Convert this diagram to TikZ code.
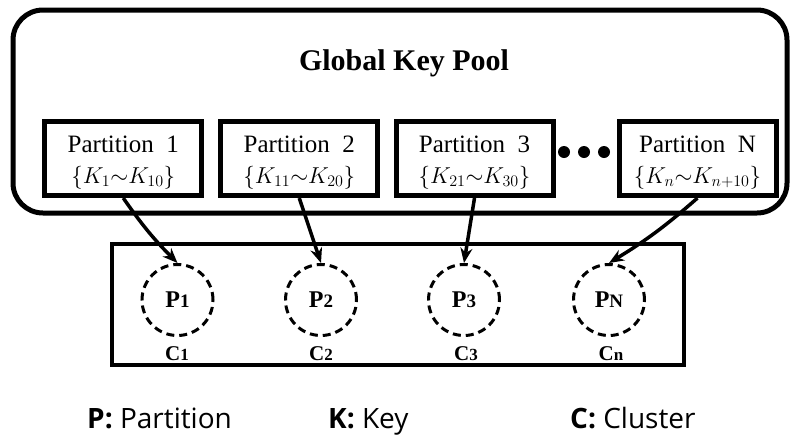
\RequirePackage{fix-cm}
\documentclass[tikz,border=0pt]{standalone}
\usepackage{fontspec}
\setmainfont{Liberation Serif}
\newfontfamily\legendfont{Open Sans}
\usetikzlibrary{arrows.meta}

% smaller index digits/letters next to bold labels
\newcommand\smallidx[2]{{\fontsize{#1}{#1}\selectfont #2}}

\tikzset{
  poolbox/.style={draw, line width=5pt, rounded corners=30pt,
    minimum width=774pt, minimum height=203pt, inner sep=0pt},
  partbox/.style={draw, line width=5pt, minimum width=157pt,
    minimum height=74pt, inner sep=0pt},
  clusterbox/.style={draw, line width=4pt, minimum width=572pt,
    minimum height=120.5pt, inner sep=0pt},
  pcircle/.style={circle, draw, line width=3pt, dash pattern=on 8pt off 5pt,
    minimum size=71pt, inner sep=0pt, font=\bfseries\fontsize{24}{24}\selectfont},
  titletext/.style={inner sep=0pt, anchor=base, font=\bfseries\fontsize{30}{30}\selectfont},
  parttext/.style={inner sep=0pt, anchor=base, font=\fontsize{25}{25}\selectfont},
  keytext/.style={inner sep=0pt, anchor=base, font=\fontsize{23}{23}\selectfont},
  clabel/.style={inner sep=0pt, anchor=base, font=\bfseries\fontsize{21}{21}\selectfont},
  legendtext/.style={inner sep=0pt, anchor=base west, font=\legendfont\fontsize{28}{28}\selectfont},
  link/.style={line width=3.5pt, -{Stealth[length=15pt,width=12pt]}},
}

\begin{document}
\begin{tikzpicture}[x=1pt, y=-1pt]
\useasboundingbox (0,0) rectangle (790,437);

% global key pool
\node[poolbox] (pool) at (400,111.5) {};
\node[titletext] (title) at (404,70) {Global Key Pool};

% partitions
\node[partbox] (b1) at (123.25,158.5) {};
\node[partbox] (b2) at (299.25,158.5) {};
\node[partbox] (b3) at (474.5,158.5) {};
\node[partbox] (bn) at (697.5,158.5) {};

\node[parttext] (b1t) at (123.25,152) {Partition \ 1};
\node[parttext] (b2t) at (299.25,152) {Partition \ 2};
\node[parttext] (b3t) at (474.5,152) {Partition \ 3};
\node[parttext] (bnt) at (697.5,152) {Partition \ N};

\node[keytext] (b1k) at (123.25,183) {$\{K_1{\sim}K_{10}\}$};
\node[keytext] (b2k) at (299.25,183) {$\{K_{11}{\sim}K_{20}\}$};
\node[keytext] (b3k) at (474.5,183) {$\{K_{21}{\sim}K_{30}\}$};
\node[keytext] (bnk) at (697.5,183) {$\{K_n{\sim}K_{n+10}\}$};

% ellipsis between partition 3 and N
\fill (564,152) circle (6);
\fill (584,152) circle (6);
\fill (604,152) circle (6);

% clusters
\node[clusterbox] (cl) at (398,304.25) {};
\node[pcircle] (c1) at (177.5,300) {P\smallidx{19}{1}};
\node[pcircle] (c2) at (321,300) {P\smallidx{19}{2}};
\node[pcircle] (c3) at (464,300) {P\smallidx{19}{3}};
\node[pcircle] (cn) at (609,300) {P\smallidx{19}{N}};

\node[clabel] (l1) at (177,360) {C\smallidx{17}{1}};
\node[clabel] (l2) at (321,360) {C\smallidx{17}{2}};
\node[clabel] (l3) at (466,360) {C\smallidx{17}{3}};
\node[clabel] (ln) at (611,360) {C\smallidx{17}{n}};

% assignment of partitions to clusters
\draw[link] (b1.south) to[bend right=5] (c1.north);
\draw[link] (b2.south) -- (c2.north);
\draw[link] (b3.south) -- (c3.north);
\draw[link] (bn.south) to[bend left=5] (cn.north);

% legend
\node[legendtext] (lp) at (87,428) {\textbf{P:} Partition};
\node[legendtext] (lk) at (328,428) {\textbf{K:} Key};
\node[legendtext] (lc) at (570,428) {\textbf{C:} Cluster};
\end{tikzpicture}
\end{document}
